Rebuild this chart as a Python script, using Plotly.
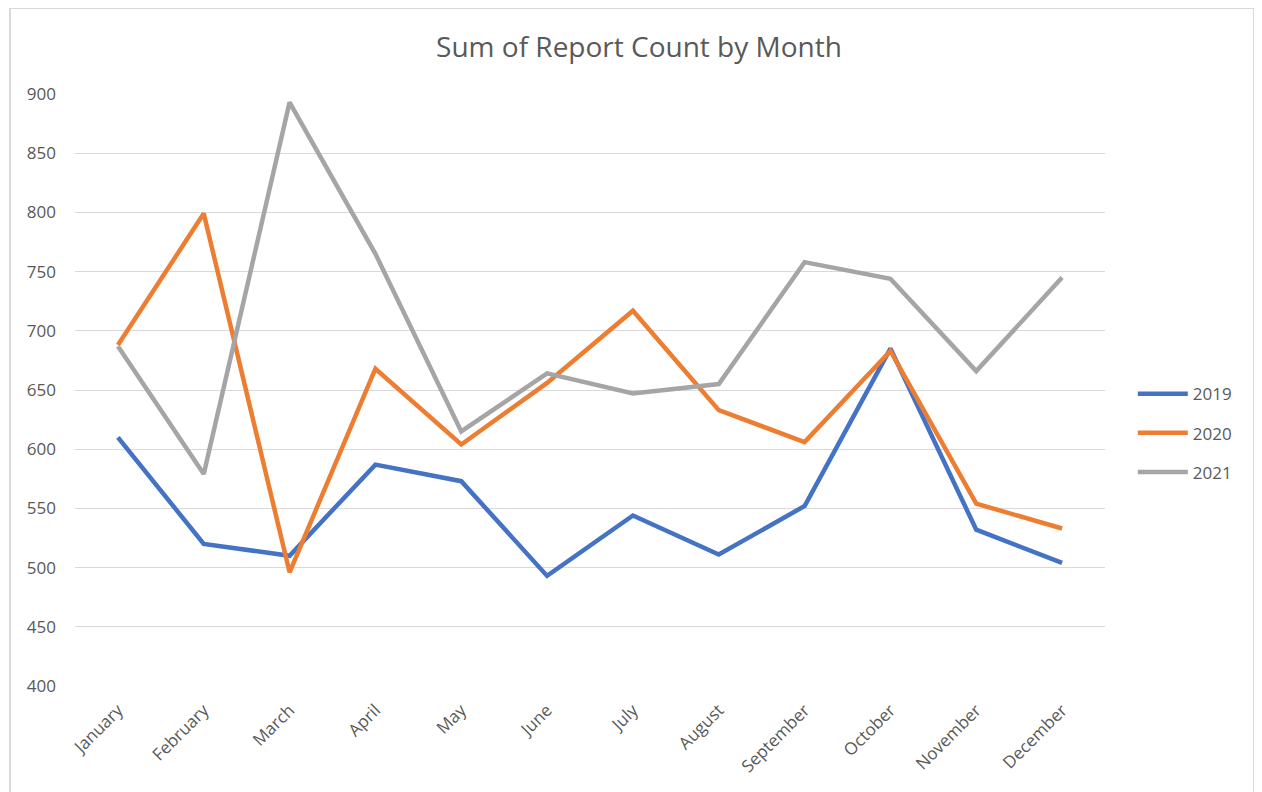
import plotly.graph_objects as go

months = ["January", "February", "March", "April", "May", "June", "July",
          "August", "September", "October", "November", "December"]
y2019 = [610, 520, 510, 587, 573, 493, 544, 511, 552, 685, 532, 504]
y2020 = [688, 799, 496, 668, 604, 656, 717, 633, 606, 683, 554, 533]
y2021 = [687, 579, 893, 765, 615, 664, 647, 655, 758, 744, 666, 745]

series = [("2019", y2019, "#4472C4"), ("2020", y2020, "#ED7D31"), ("2021", y2021, "#A5A5A5")]

fig = go.Figure()
for name, vals, color in series:
    fig.add_trace(go.Scatter(
        x=months, y=vals, name=name, mode="lines",
        line=dict(color=color, width=4.5), legendgroup=name
    ))

# chart outer border (Excel chart area)
fig.add_shape(type="rect", xref="paper", yref="paper",
              x0=-0.0631, x1=1.1447, y0=-0.3, y1=1.1453,
              line=dict(color="#D9D9D9", width=2), layer="below")

# page body adds an 8px offset, so margins are shifted by 8
fig.update_layout(
    width=1262, height=792,
    paper_bgcolor="white", plot_bgcolor="white",
    margin=dict(l=67, r=165, t=86, b=114, autoexpand=False),
    font=dict(family="Open Sans", color="#595959"),
    title=dict(text="Sum of Report Count by Month", x=0.5, xanchor="center",
               y=1 - 39 / 792, yanchor="middle",
               font=dict(size=28, color="#595959")),
    legend=dict(x=1.027, y=0.427, xanchor="left", yanchor="middle",
                font=dict(size=17, color="#595959"), itemwidth=50,
                tracegroupgap=14),
    showlegend=True,
)
fig.update_xaxes(range=[-0.5, 11.5], tickangle=-45, showgrid=False,
                 showline=False, ticks="", tickfont=dict(size=17),
                 ticklabelstandoff=10, automargin=False)
fig.update_yaxes(range=[400, 900], dtick=50, showgrid=True, gridcolor="#D9D9D9",
                 gridwidth=1, zeroline=False, showline=False, ticks="",
                 ticklabelstandoff=18, tickfont=dict(size=17), automargin=False)

fig.write_html("out.html")
